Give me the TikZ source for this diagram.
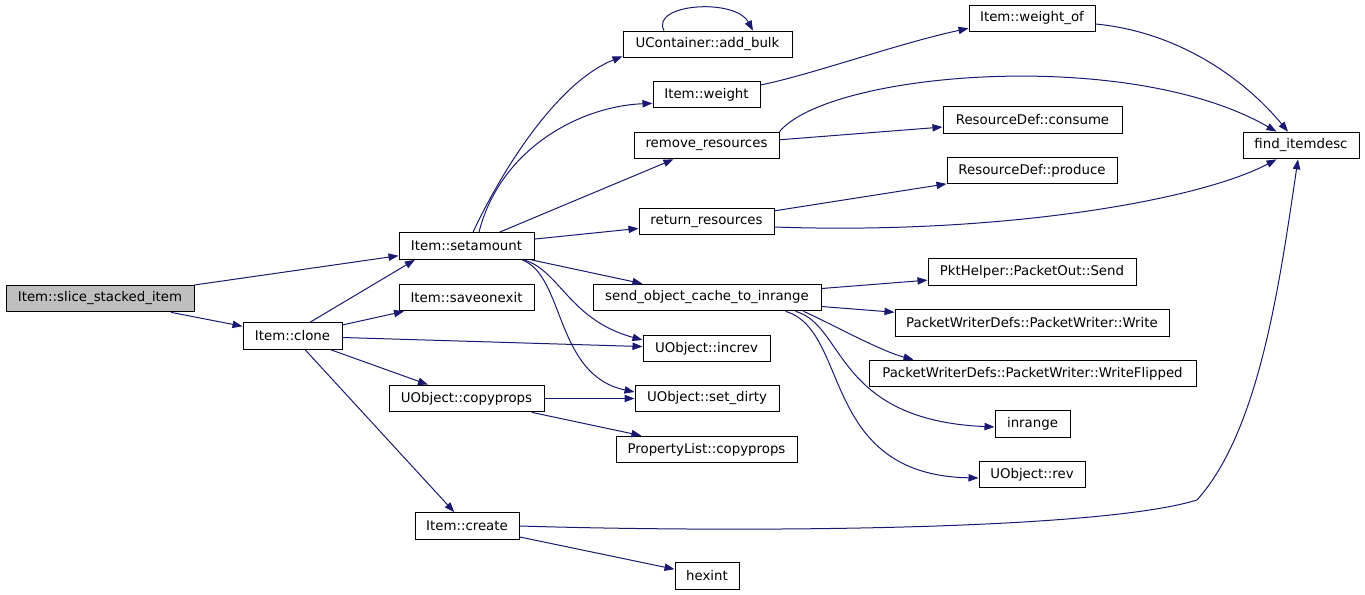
\documentclass[tikz,border=0pt]{standalone}
\usepackage{fontspec}
\setmainfont{DejaVu Sans}
\usetikzlibrary{arrows.meta,calc}
\definecolor{edgeblue}{RGB}{25,25,112}
\definecolor{slicegray}{RGB}{191,191,191}

\begin{document}
\begin{tikzpicture}[x=0.75pt, y=-0.75pt,
  fn/.style={draw=black, line width=0.75pt, fill=white, minimum height=20pt, inner xsep=2pt, inner ysep=0pt, font=\fontsize{10}{12}\selectfont},
  boxw/.style={minimum width=#1*0.75pt},
  call/.style={draw=edgeblue, line width=0.75pt, -{Triangle[length=7.5pt,width=5.5pt]}}]
\useasboundingbox (0,0) rectangle (1365,595);
\node[fn, boxw=188, fill=slicegray] (slice) at (100,298.5) {Item::slice\_stacked\_item};
\node[fn, boxw=99] (clone) at (292.5,336) {Item::clone};
\node[fn, boxw=135] (setamount) at (466.5,246) {Item::setamount};
\node[fn, boxw=135] (saveonexit) at (466.5,297.5) {Item::saveonexit};
\node[fn, boxw=155] (copyprops) at (466.5,398.5) {UObject::copyprops};
\node[fn, boxw=104] (create) at (467,526) {Item::create};
\node[fn, boxw=169] (addbulk) at (707.5,44.5) {UContainer::add\_bulk};
\node[fn, boxw=107] (weight) at (706.5,94.5) {Item::weight};
\node[fn, boxw=145] (remove) at (706.5,145.5) {remove\_resources};
\node[fn, boxw=135] (return) at (706.5,221.5) {return\_resources};
\node[fn, boxw=228] (sendcache) at (707,297.5) {send\_object\_cache\_to\_inrange};
\node[fn, boxw=127] (increv) at (706.5,348.5) {UObject::increv};
\node[fn, boxw=144] (setdirty) at (707,398.5) {UObject::set\_dirty};
\node[fn, boxw=181] (plcopy) at (706.5,449.5) {PropertyList::copyprops};
\node[fn, boxw=64] (hexint) at (707,576) {hexint};
\node[fn, boxw=126] (weightof) at (1032,18.5) {Item::weight\_of};
\node[fn, boxw=179] (consume) at (1032.5,120) {ResourceDef::consume};
\node[fn, boxw=170] (produce) at (1032,170.5) {ResourceDef::produce};
\node[fn, boxw=208] (send) at (1032,272) {PktHelper::PacketOut::Send};
\node[fn, boxw=274] (write) at (1032,323) {PacketWriterDefs::PacketWriter::Write};
\node[fn, boxw=327] (writeflip) at (1032.5,373.5) {PacketWriterDefs::PacketWriter::WriteFlipped};
\node[fn, boxw=75] (inrange) at (1032.5,424) {inrange};
\node[fn, boxw=106] (rev) at (1032,474.5) {UObject::rev};
\node[fn, boxw=116] (finddesc) at (1301,145.5) {find\_itemdesc};
\draw[call] (slice) -- (setamount);
\draw[call] (slice) -- (clone);
\draw[call] (clone.38) -- (setamount.195);
\draw[call] (clone) -- (saveonexit);
\draw[call] (clone) -- (increv);
\draw[call] (clone) -- (copyprops);
\draw[call] (clone) -- (create);
\draw[call] ($(setamount.north)+(6.5,0)$) .. controls +(32,-68) and +(-63,25) .. ($(addbulk.south west)+(0,-2)$);
\draw[call] ($(setamount.north)+(12.5,0)$) .. controls +(21,-83) and +(-73,3) .. ($(weight.south west)+(0,-5)$);
\draw[call] (setamount) -- (remove);
\draw[call] (setamount) -- (return);
\draw[call] (setamount) -- (sendcache);
\draw[call] ($(setamount.south)+(57.5,0)$) .. controls +(36,11) and +(-73,-20) .. ($(increv.west)+(0,-8.5)$);
\draw[call] ($(setamount.south)+(55.5,0)$) .. controls +(43,16) and +(-80,-17) .. ($(setdirty.west)+(0,-6.5)$);
\draw[call] ($(addbulk.north)+(-43.5,0)$) .. controls +(-14,-27) and +(-18,-33) .. ($(addbulk.north)+(45.5,0)$);
\draw[call] ($(weight.east)+(0,-9.5)$) .. controls +(50,-10) and +(-70,15) .. ($(weightof.south west)+(0,-4)$);
\draw[call] ($(weightof.east)+(0,5.5)$) .. controls +(84,8) and +(-43,-52) .. ($(finddesc.north)+(-13,0)$);
\draw[call] (remove.north east) .. controls +(50,-60) and +(-147,-85) .. ($(finddesc.north west)+(34,0)$);
\draw[call] (remove) -- (consume);
\draw[call] (return) -- (produce);
\draw[call] ($(return.east)+(0,5.5)$) .. controls +(226,8) and +(-77,41) .. ($(finddesc.south west)+(34,0)$);
\draw[call] (sendcache) -- (send);
\draw[call] (sendcache) -- (write);
\draw[call] ($(sendcache.south east)+(-18,0)$) .. controls +(25,11) and +(-34,-9) .. ($(writeflip.north west)+(45,0)$);
\draw[call] ($(sendcache.south east)+(-26,0)$) .. controls +(50,14) and +(-160,-7) .. ($(inrange.west)+(0,3)$);
\draw[call] ($(sendcache.south east)+(-36,0)$) .. controls +(65,19) and +(-159,-3) .. ($(rev.west)+(0,3.5)$);
\draw[call] (copyprops) -- (setdirty);
\draw[call] (copyprops) -- (plcopy);
\draw[call] (create.east) .. controls (750,533) and (1100,530) .. (1197,500) .. controls (1260,430) and (1280,280) .. ($(finddesc.south)+(-3,0)$);
\draw[call] (create) -- (hexint);
\end{tikzpicture}
\end{document}
